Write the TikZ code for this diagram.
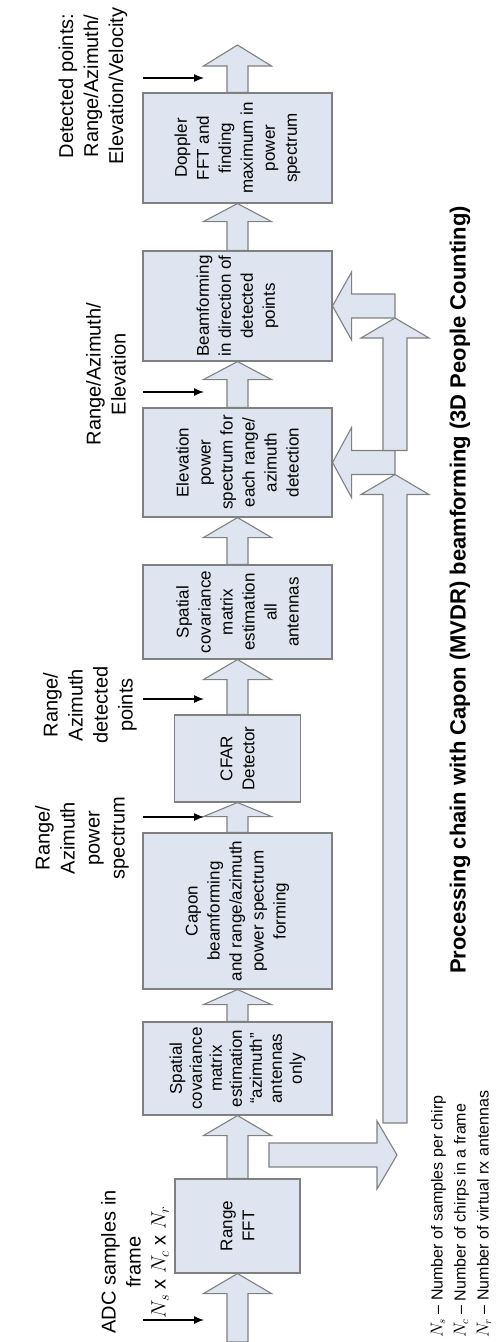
\documentclass[tikz,border=0pt]{standalone}
\usepackage{fontspec}
\setmainfont{Liberation Sans}
\usetikzlibrary{calc,
	arrows.meta}

\definecolor{boxfill}{RGB}{222,229,240}
\definecolor{boxline}{RGB}{128,128,128}

\tikzset{
	block/.style={draw=boxline, fill=boxfill, line width=1.1pt, rotate=90, align=center,
		inner sep=0pt, font=\fontsize{17}{22}\selectfont},
	fatarr/.style={draw=boxline, fill=boxfill, line width=1.1pt},
	lbl/.style={rotate=90, align=center, inner sep=0pt, font=\fontsize{20}{25}\selectfont},
	lblarr/.style={-{Latex[length=10pt,width=8pt]}, line width=1.2pt},
}

% fat arrow: tail, tip, head length, half shaft, half head
\newcommand{\fatarrow}[5]{%
	\coordinate (fa-h) at ($(#2)!#3pt!(#1)$);
	\draw[fatarr] ($(#1)!#4pt!90:(#2)$) -- ($(fa-h)!#4pt!90:(#2)$) -- ($(fa-h)!#5pt!90:(#2)$) -- (#2)
		-- ($(fa-h)!#5pt!-90:(#2)$) -- ($(fa-h)!#4pt!-90:(#2)$) -- ($(#1)!#4pt!-90:(#2)$) -- cycle;
}

\begin{document}
\begin{tikzpicture}[x=1pt,y=-1pt]
\useasboundingbox (0,0) rectangle (496,1342);

% processing blocks
\node[block, minimum width=94pt, minimum height=125pt] (rfft) at (237.5,1226) {Range\\FFT};
\node[block, minimum width=93pt, minimum height=189pt, font=\fontsize{17}{20}\selectfont] (covaz) at (237.5,1068.5)
	{Spatial\\covariance\\matrix\\estimation\\“azimuth”\\antennas\\only};
\node[block, minimum width=156pt, minimum height=189pt] (capon) at (237.5,911)
	{Capon\\beamforming\\and range/azimuth\\power spectrum\\forming};
\node[block, minimum width=87pt, minimum height=126pt] (cfar) at (237.5,758.5) {CFAR\\Detector};
\node[block, minimum width=94pt, minimum height=189pt] (covall) at (237.5,612)
	{Spatial\\covariance\\matrix\\estimation\\all\\antennas};
\node[block, minimum width=109pt, minimum height=189pt] (elev) at (237.5,462.5)
	{Elevation\\power\\spectrum for\\each range/\\azimuth\\detection};
\node[block, minimum width=110pt, minimum height=189pt] (beam) at (237.5,306)
	{Beamforming\\in direction of\\detected\\points};
\node[block, minimum width=110pt, minimum height=189pt] (doppler) at (237.5,148)
	{Doppler\\FFT and\\finding\\maximum in\\power\\spectrum};

% main chain
\coordinate (adc) at (237.5,1342);
\coordinate (out) at (237.5,45);
\fatarrow{adc}{rfft.west}{20}{10.5}{34}
\fatarrow{rfft.east}{covaz.west}{20}{10.5}{34}
\fatarrow{covaz.east}{capon.west}{15}{10.5}{34}
\fatarrow{capon.east}{cfar.west}{14}{10.5}{34}
\fatarrow{cfar.east}{covall.west}{20}{10.5}{34}
\fatarrow{covall.east}{elev.west}{20}{10.5}{34}
\fatarrow{elev.east}{beam.west}{18}{10.5}{34}
\fatarrow{beam.east}{doppler.west}{18}{10.5}{34}
\fatarrow{doppler.east}{out}{21}{10.5}{34}

% side feed of range FFT data
\coordinate (fd-s) at (269,1155);
\coordinate (fd-e) at (397,1155);
\fatarrow{fd-s}{fd-e}{20}{12}{34}
\coordinate (up-s) at (395,1123);
\coordinate (br1) at (elev.south -| up-s);
\coordinate (up-e) at ($(br1)+(0,12)$);
\fatarrow{up-s}{up-e}{20}{12}{34}
\fatarrow{br1}{elev.south}{19}{12}{35}
\coordinate (br2) at (beam.south -| up-s);
\coordinate (up2-s) at ($(br1)+(0,-12)$);
\coordinate (up2-e) at ($(br2)+(0,12)$);
\fatarrow{up2-s}{up2-e}{20}{12}{34}
\fatarrow{br2}{beam.south}{19}{12}{34}

% labels
\node[lbl] (adcl) at (135,1262) {ADC samples in\\frame\\$N_s$ x $N_c$ x $N_r$};
\node[lbl] (powl) at (82,838) {Range/\\Azimuth\\power\\spectrum};
\node[lbl] (detl) at (90,705) {Range/\\Azimuth\\detected\\points};
\node[lbl] (elel) at (106,374) {Range/Azimuth/\\Elevation};
\node[lbl] (vell) at (93,86) {Detected points:\\Range/Azimuth/\\Elevation/Velocity};
\foreach \n/\y in {adc/1320, pow/817, det/699, ele/392, vel/78}{
	\coordinate (\n-s) at (143,\y);
	\coordinate (\n-e) at (204,\y);
	\draw[lblarr] (\n-s) -- (\n-e);
}

\node[lbl, font=\bfseries\fontsize{22}{26}\selectfont] (title) at (460,590)
	{Processing chain with Capon (MVDR) beamforming (3D People Counting)};
\node[lbl, anchor=west, align=left, font=\fontsize{16}{23}\selectfont] (legend) at (461,1338)
	{$N_s$ -- Number of samples per chirp\\$N_c$ -- Number of chirps in a frame\\$N_r$ -- Number of virtual rx antennas};
\end{tikzpicture}
\end{document}
